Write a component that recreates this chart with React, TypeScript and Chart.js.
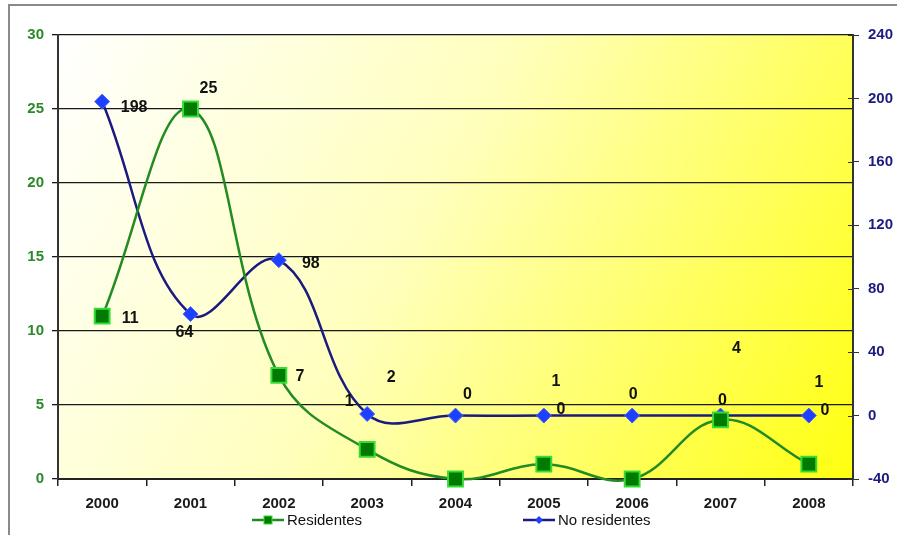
import React, { useEffect, useRef } from "react";
import { Chart, registerables } from "chart.js";

Chart.register(...registerables);

const years = ["2000", "2001", "2002", "2003", "2004", "2005", "2006", "2007", "2008"];
const residentes = [11, 25, 7, 2, 0, 1, 0, 4, 1];
const noResidentes = [198, 64, 98, 1, 0, 0, 0, 0, 0];
const leftTicks = { min: 0, max: 30, step: 5 };
const rightTicks = { min: -40, max: 240, step: 40 };

// label text shown per point ("" = not shown) and offsets (px) from the point
const resLabelText = ["11", "25", "7", "2", "0", "1", "0", "4", "1"];
const resLabelOffset = [[28, 2], [18, -20], [21, 1], [24, -72], [12, -84], [12, -83], [1, -84], [16, -71], [10, -82]];
const noResLabelText = ["198", "64", "98", "1", "", "0", "", "0", "0"];
const noResLabelOffset = [[32, 6], [-6, 19], [32, 3], [-18, -12], [17, -6], [17, -6], [17, -6], [2, -15], [16, -5]];

const FONT = "'Liberation Sans', Arial, sans-serif";

const bgPlugin = {
  id: "bgPlugin",
  beforeDraw(chart: any) {
    const { ctx, chartArea: a } = chart;
    ctx.save();
    ctx.fillStyle = "#ffffff";
    ctx.fillRect(0, 0, chart.width, chart.height);
    ctx.strokeStyle = "#8a8a8a";
    ctx.lineWidth = 2;
    ctx.beginPath();
    ctx.moveTo(9, chart.height + 2);
    ctx.lineTo(9, 5);
    ctx.lineTo(chart.width + 2, 5);
    ctx.stroke();
    const g = ctx.createLinearGradient(a.left, a.top, a.right, a.bottom);
    g.addColorStop(0, "#ffffff");
    g.addColorStop(0.45, "#ffffbc");
    g.addColorStop(1, "#ffff10");
    ctx.fillStyle = g;
    ctx.fillRect(a.left, a.top, a.right - a.left, a.bottom - a.top);
    ctx.restore();
  },
};

const innerTickPlugin = {
  id: "innerTickPlugin",
  afterDraw(chart: any) {
    const { ctx } = chart;
    const s = chart.scales.y1;
    ctx.save();
    ctx.strokeStyle = "#333";
    ctx.lineWidth = 1;
    s.ticks.forEach((_t: any, i: number) => {
      const y = Math.round(s.getPixelForTick(i)) + 0.5;
      ctx.beginPath();
      ctx.moveTo(s.left - 5, y);
      ctx.lineTo(s.left, y);
      ctx.stroke();
    });
    ctx.restore();
  },
};

const labelPlugin = {
  id: "labelPlugin",
  afterDatasetsDraw(chart: any) {
    const { ctx } = chart;
    ctx.save();
    ctx.font = `bold 16px ${FONT}`;
    ctx.fillStyle = "#111111";
    ctx.textAlign = "center";
    ctx.textBaseline = "middle";
    const sets = [
      { texts: resLabelText, offs: resLabelOffset, idx: 0 },
      { texts: noResLabelText, offs: noResLabelOffset, idx: 1 },
    ];
    for (const s of sets) {
      const meta = chart.getDatasetMeta(s.idx);
      meta.data.forEach((pt: any, i: number) => {
        const t = s.texts[i];
        if (!t) return;
        ctx.fillText(t, pt.x + s.offs[i][0], pt.y + s.offs[i][1]);
      });
    }
    ctx.restore();
  },
};

const legendPlugin = {
  id: "legendPlugin",
  afterDraw(chart: any) {
    const { ctx } = chart;
    const y = 520;
    ctx.save();
    ctx.font = `15px ${FONT}`;
    ctx.textBaseline = "middle";
    ctx.textAlign = "left";
    const items = [
      { label: chart.data.datasets[0].label, x: 252, color: "#228b22", marker: "rect" },
      { label: chart.data.datasets[1].label, x: 523, color: "#1a1a80", marker: "diamond" },
    ];
    for (const it of items) {
      ctx.strokeStyle = it.color;
      ctx.lineWidth = 2.5;
      ctx.beginPath();
      ctx.moveTo(it.x, y);
      ctx.lineTo(it.x + 32, y);
      ctx.stroke();
      const cx = it.x + 16;
      if (it.marker === "rect") {
        ctx.fillStyle = "#007a00";
        ctx.strokeStyle = "#33dd33";
        ctx.lineWidth = 1;
        ctx.fillRect(cx - 4, y - 4, 8, 8);
        ctx.strokeRect(cx - 4, y - 4, 8, 8);
      } else {
        ctx.fillStyle = "#1f3fff";
        ctx.beginPath();
        ctx.moveTo(cx, y - 4);
        ctx.lineTo(cx + 4, y);
        ctx.lineTo(cx, y + 4);
        ctx.lineTo(cx - 4, y);
        ctx.closePath();
        ctx.fill();
      }
      ctx.fillStyle = "#111111";
      ctx.fillText(it.label, it.x + 35, y + 1);
    }
    ctx.restore();
  },
};

export default function App() {
  const ref = useRef<HTMLCanvasElement | null>(null);
  useEffect(() => {
    document.body.style.margin = "0";
    if (!ref.current) return;
    const chart = new Chart(ref.current, {
      type: "line",
      data: {
        labels: years,
        datasets: [
          {
            label: "Residentes",
            data: residentes,
            yAxisID: "y",
            borderColor: "#228b22",
            borderWidth: 2.5,
            tension: 0.4,
            pointStyle: "rect",
            pointRadius: 10.5,
            pointBackgroundColor: "#007a00",
            pointBorderColor: "#33dd33",
            pointBorderWidth: 2,
            clip: false as any,
          },
          {
            label: "No residentes",
            data: noResidentes,
            yAxisID: "y1",
            borderColor: "#1a1a80",
            borderWidth: 2.5,
            tension: 0.4,
            pointStyle: "rectRot",
            pointRadius: 7.5,
            pointBackgroundColor: "#1f3fff",
            pointBorderColor: "#4a66ff",
            pointBorderWidth: 1,
            clip: false as any,
          },
        ],
      },
      options: {
        animation: false,
        responsive: false,
        devicePixelRatio: 1,
        layout: { padding: { top: 35, left: 0, right: 0, bottom: 0 } },
        plugins: { legend: { display: false }, tooltip: { enabled: false } },
        elements: { line: { capBezierPoints: false } },
        scales: {
          x: {
            offset: true,
            grid: { offset: true, drawOnChartArea: false, drawTicks: true, tickLength: 7, color: "#222", lineWidth: 1.5 },
            border: { display: true, color: "#222", width: 2 },
            ticks: { color: "#1a1a1a", font: { family: FONT, size: 15, weight: "bold" }, padding: 9, maxRotation: 0 },
            afterFit(s: any) { s.height = 56; },
          },
          y: {
            position: "left",
            min: leftTicks.min,
            max: leftTicks.max,
            ticks: { stepSize: leftTicks.step, color: "#2a8a2a", font: { family: FONT, size: 15, weight: "bold" }, padding: 8 },
            grid: { color: "#1a1a1a", lineWidth: 1.3, tickLength: 6, drawTicks: true },
            border: { display: true, color: "#333", width: 2 },
            afterFit(s: any) { s.width = 58; },
          },
          y1: {
            position: "right",
            min: rightTicks.min,
            max: rightTicks.max,
            ticks: { stepSize: rightTicks.step, color: "#1c1c80", font: { family: FONT, size: 15, weight: "bold" }, padding: 9 },
            grid: { drawOnChartArea: false, color: "#333", tickLength: 6, drawTicks: true },
            border: { display: true, color: "#333", width: 2 },
            afterFit(s: any) { s.width = 44; },
          },
        },
      },
      plugins: [bgPlugin, innerTickPlugin, labelPlugin, legendPlugin],
    });
    return () => chart.destroy();
  }, []);
  return (
    <div style={{ width: 897, height: 535 }}>
      <canvas ref={ref} width={897} height={535} style={{ display: "block" }} />
    </div>
  );
}
